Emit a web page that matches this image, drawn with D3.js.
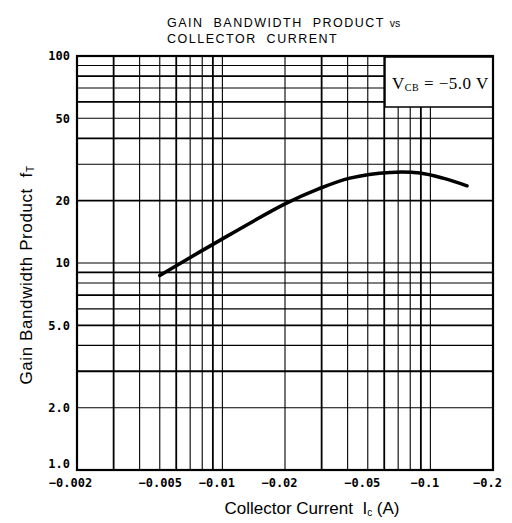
<!DOCTYPE html>
<html>
<head>
<meta charset="utf-8">
<script src="https://cdn.jsdelivr.net/npm/d3@7"></script>
<style>
  body { margin: 0; background: #fff; }
  svg { display: block; }
</style>
</head>
<body>
<div id="chart"></div>
<script>
// data
var collectorCurrent = [-0.005, -0.009, -0.02, -0.029, -0.041, -0.064, -0.089, -0.115, -0.15];
var gainBandwidth = [8.7, 12.3, 19.3, 22.8, 25.7, 27.4, 27.2, 25.7, 23.6];

var xTickValues = [-0.002, -0.005, -0.01, -0.02, -0.05, -0.1, -0.2];
var xTickLabels = ["\u22120.002", "\u22120.005", "\u22120.01", "\u22120.02", "\u22120.05", "\u22120.1", "\u22120.2"];
var yTickValues = [1, 2, 5, 10, 20, 50, 100];
var yTickLabels = ["1.0", "2.0", "5.0", "10", "20", "50", "100"];

var W = 512, H = 523;
var margin = { top: 56, right: 19, bottom: 53, left: 77 };
var width = W - margin.left - margin.right,
  height = H - margin.top - margin.bottom;

var svg = d3.select("#chart").append("svg")
  .attr("width", W)
  .attr("height", H);

var g = svg.append("g")
  .attr("transform", "translate(" + margin.left + "," + margin.top + ")");

// log scales, x works on |Ic|
var x = d3.scaleLog().domain([0.002, 0.2]).range([0, width]);
var y = d3.scaleLog().domain([1, 100]).range([height, 0]);

// grid
g.append("g").selectAll("line")
  .data(x.ticks())
  .enter().append("line")
  .attr("x1", function (d) { return x(d); })
  .attr("x2", function (d) { return x(d); })
  .attr("y1", 0)
  .attr("y2", height)
  .attr("stroke", "#000")
  .attr("stroke-width", function (d, i) { return i % 3 == 1 ? 1.8 : 1.1; });

g.append("g").selectAll("line")
  .data(y.ticks())
  .enter().append("line")
  .attr("x1", 0)
  .attr("x2", width)
  .attr("y1", function (d) { return y(d); })
  .attr("y2", function (d) { return y(d); })
  .attr("stroke", "#000")
  .attr("stroke-width", function (d, i) { return i % 2 == 0 ? 1.8 : 1.1; });

// condition box
g.append("rect")
  .attr("x", 308)
  .attr("y", 1)
  .attr("width", width - 308)
  .attr("height", 50)
  .attr("fill", "#fff")
  .attr("stroke", "#000")
  .attr("stroke-width", 1.5);

var cond = g.append("text")
  .attr("x", 315)
  .attr("y", 33)
  .style("font-family", "'Liberation Serif', 'DejaVu Serif', serif")
  .style("font-size", "17px")
  .style("letter-spacing", "0.5px")
  .attr("fill", "#000");
cond.append("tspan").text("V");
cond.append("tspan").attr("dy", 2).style("font-size", "10px").text("CB");
cond.append("tspan").attr("dy", -2).text(" = \u22125.0 V");

// frame
g.append("rect")
  .attr("width", width)
  .attr("height", height)
  .attr("fill", "none")
  .attr("stroke", "#000")
  .attr("stroke-width", 2.2);

// curve
var line = d3.line()
  .x(function (d, i) { return x(Math.abs(collectorCurrent[i])); })
  .y(function (d) { return y(d); })
  .curve(d3.curveCatmullRom);

g.append("path")
  .datum(gainBandwidth)
  .attr("fill", "none")
  .attr("stroke", "#000")
  .attr("stroke-width", 3.5)
  .attr("stroke-linecap", "round")
  .attr("d", line);

// axes
var xAxis = g.append("g")
  .attr("transform", "translate(0," + height + ")")
  .call(d3.axisBottom(x)
    .tickValues(xTickValues.map(Math.abs))
    .tickSize(0)
    .tickPadding(8)
    .tickFormat(function (d, i) { return xTickLabels[i]; }));
xAxis.select(".domain").remove();
xAxis.selectAll("text")
  .attr("dx", function (d, i) { return i == 0 ? -7 : (i == 1 ? 0 : -6); })
  .style("font-family", "'DejaVu Sans Mono', monospace")
  .style("font-size", "12px")
  .style("font-weight", "bold")
  .attr("fill", "#000");

var yAxis = g.append("g")
  .call(d3.axisLeft(y)
    .tickValues(yTickValues)
    .tickSize(0)
    .tickPadding(7)
    .tickFormat(function (d, i) { return yTickLabels[i]; }));
yAxis.select(".domain").remove();
yAxis.selectAll("text")
  .attr("dy", function (d) { return d == 1 ? "-0.2em" : "0.32em"; })
  .style("font-family", "'DejaVu Sans Mono', monospace")
  .style("font-size", "12px")
  .style("font-weight", "bold")
  .attr("fill", "#000");

// titles
var title = svg.append("text")
  .attr("x", 167)
  .attr("y", 27)
  .style("font-family", "'Liberation Sans', Arial, sans-serif")
  .style("font-size", "12.5px")
  .style("letter-spacing", "1.5px")
  .style("white-space", "pre")
  .attr("fill", "#000");
title.append("tspan").text("GAIN  BANDWIDTH  PRODUCT ");
title.append("tspan").style("font-size", "10.5px").style("letter-spacing", "0px").text("vs");

svg.append("text")
  .attr("x", 167)
  .attr("y", 43)
  .style("font-family", "'Liberation Sans', Arial, sans-serif")
  .style("font-size", "12.5px")
  .style("letter-spacing", "1.5px")
  .style("white-space", "pre")
  .attr("fill", "#000")
  .text("COLLECTOR  CURRENT");

var xLabel = svg.append("text")
  .attr("x", 312)
  .attr("y", 514)
  .attr("text-anchor", "middle")
  .style("font-family", "'Liberation Sans', Arial, sans-serif")
  .style("font-size", "17px")
  .style("white-space", "pre")
  .attr("fill", "#000");
xLabel.append("tspan").text("Collector Current  I");
xLabel.append("tspan").attr("dy", 2).style("font-size", "10px").text("c");
xLabel.append("tspan").attr("dy", -2).text(" (A)");

var yLabel = svg.append("text")
  .attr("transform", "translate(32,275) rotate(-90)")
  .attr("text-anchor", "middle")
  .style("font-family", "'Liberation Sans', Arial, sans-serif")
  .style("font-size", "17px")
  .style("letter-spacing", "0.6px")
  .style("white-space", "pre")
  .attr("fill", "#000");
yLabel.append("tspan").text("Gain Bandwidth Product  f");
yLabel.append("tspan").attr("dy", 2).style("font-size", "10px").text("T");
</script>
</body>
</html>
